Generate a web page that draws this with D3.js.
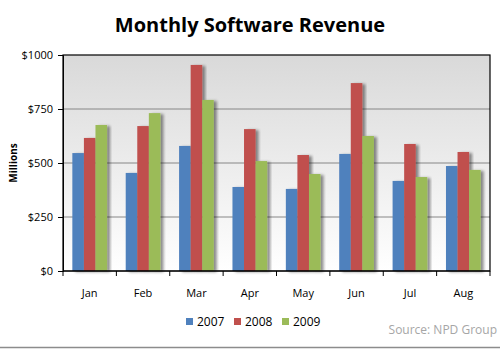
<!DOCTYPE html>
<html>
<head>
<meta charset="utf-8">
<script src="https://cdn.jsdelivr.net/npm/d3@7"></script>
<style>
  body { margin: 0; background: #fff; }
  text { font-family: "Open Sans", "Noto Sans", sans-serif; }
</style>
</head>
<body>
<svg id="chart" width="500" height="349"></svg>
<script>
// данные
const months = ['Jan', 'Feb', 'Mar', 'Apr', 'May', 'Jun', 'Jul', 'Aug']
const years = ['2007', '2008', '2009']
const rev2007 = [546, 454, 579, 389, 380, 542, 417, 486]
const rev2008 = [616, 671, 954, 657, 537, 870, 588, 551]
const rev2009 = [676, 731, 792, 509, 449, 625, 435, 468]
const yTicks = [0, 250, 500, 750, 1000]
const colors = ['#4f81bd', '#c0504d', '#9bbb59']

const series = [rev2007, rev2008, rev2009]

const svg = d3.select('#chart')
const margin = { left: 63, right: 10, top: 55, bottom: 78 }
const width = 500, height = 349
const innerW = width - margin.left - margin.right
const innerH = height - margin.top - margin.bottom

const defs = svg.append('defs')
const grad = defs.append('linearGradient')
    .attr('id', 'bg').attr('x1', 0).attr('y1', 0).attr('x2', 0).attr('y2', 1)
grad.append('stop').attr('offset', '0%').attr('stop-color', '#d9d9d9')
grad.append('stop').attr('offset', '100%').attr('stop-color', '#ffffff')

const shadow = defs.append('filter').attr('id', 'shadow')
    .attr('x', '-20%').attr('y', '-10%').attr('width', '160%').attr('height', '120%')
shadow.append('feGaussianBlur').attr('in', 'SourceAlpha').attr('stdDeviation', 1.5)
shadow.append('feOffset').attr('dx', 3).attr('dy', 1).attr('result', 'off')
shadow.append('feComponentTransfer').append('feFuncA').attr('type', 'linear').attr('slope', 0.45)
const merge = shadow.append('feMerge')
merge.append('feMergeNode')
merge.append('feMergeNode').attr('in', 'SourceGraphic')

const g = svg.append('g').attr('transform', `translate(${margin.left},${margin.top})`)

const x0 = d3.scaleBand().domain(months).range([0, innerW]).paddingInner(0.35).paddingOuter(0.175)
const x1 = d3.scaleBand().domain(years).range([0, x0.bandwidth()])
const y = d3.scaleLinear().domain([0, 1000]).range([innerH, 0])

// фон
g.append('rect').attr('width', innerW).attr('height', innerH).attr('fill', 'url(#bg)')

// сетка
g.selectAll('.grid').data(yTicks.slice(1, -1)).enter()
    .append('line')
    .attr('x1', 0).attr('x2', innerW)
    .attr('y1', d => y(d)).attr('y2', d => y(d))
    .attr('stroke', '#868686').attr('stroke-width', 1)

// столбцы
const groups = g.selectAll('.grp').data(months).enter()
    .append('g').attr('transform', d => `translate(${x0(d)},0)`)

groups.selectAll('rect')
    .data((m, i) => years.map((yr, j) => ({ yr, v: series[j][i], c: colors[j] })))
    .enter().append('rect')
    .attr('x', d => x1(d.yr))
    .attr('y', d => y(d.v))
    .attr('width', x1.bandwidth())
    .attr('height', d => innerH - y(d.v))
    .attr('fill', d => d.c)
    .attr('filter', 'url(#shadow)')

// рамка
g.append('rect').attr('width', innerW).attr('height', innerH)
    .attr('fill', 'none').attr('stroke', '#000').attr('stroke-width', 1.2)

// ось Y
const yAxis = g.append('g')
    .call(d3.axisLeft(y).tickValues(yTicks).tickSize(5).tickFormat(d => '$' + d))
yAxis.select('.domain').attr('stroke', '#000')
yAxis.selectAll('text').attr('font-size', 11).attr('fill', '#000').attr('dx', '-2')

// ось X
const xTickPos = months.map((m, i) => i * x0.step()).concat([innerW])
const xAxis = g.append('g').attr('transform', `translate(0,${innerH})`)
xAxis.append('line').attr('x1', 0).attr('x2', innerW).attr('stroke', '#000').attr('stroke-width', 1.2)
xAxis.selectAll('.tk').data(xTickPos).enter().append('line')
    .attr('x1', d => d).attr('x2', d => d).attr('y1', 0).attr('y2', 5).attr('stroke', '#000')
xAxis.selectAll('.lbl').data(months).enter().append('text')
    .attr('x', d => x0(d) + x0.bandwidth() / 2)
    .attr('y', 26)
    .attr('text-anchor', 'middle')
    .attr('font-size', 11)
    .text(d => d)

// заголовок
svg.append('text')
    .attr('x', 250).attr('y', 32)
    .attr('text-anchor', 'middle')
    .attr('font-size', 20).attr('font-weight', 'bold')
    .text('Monthly Software Revenue')

svg.append('text')
    .attr('transform', `translate(17,${margin.top + innerH / 2}) rotate(-90)`)
    .attr('text-anchor', 'middle')
    .attr('font-size', 10).attr('font-weight', 'bold')
    .text('Millions')

// легенда
const legend = svg.append('g').attr('transform', 'translate(186,326)')
const li = legend.selectAll('g').data(years).enter()
    .append('g').attr('transform', (d, i) => `translate(${i * 48},0)`)
li.append('rect').attr('x', 0).attr('y', -8).attr('width', 7).attr('height', 7)
    .attr('fill', (d, i) => colors[i])
li.append('text').attr('x', 11).attr('y', 0).attr('font-size', 12).text(d => d)

svg.append('text')
    .attr('x', 497).attr('y', 334)
    .attr('text-anchor', 'end')
    .attr('font-size', 12).attr('fill', '#a6a6a6')
    .text('Source: NPD Group')

svg.append('line').attr('x1', 0).attr('x2', 500).attr('y1', 347.5).attr('y2', 347.5)
    .attr('stroke', '#8c8c8c').attr('stroke-width', 1.5)
</script>
</body>
</html>
